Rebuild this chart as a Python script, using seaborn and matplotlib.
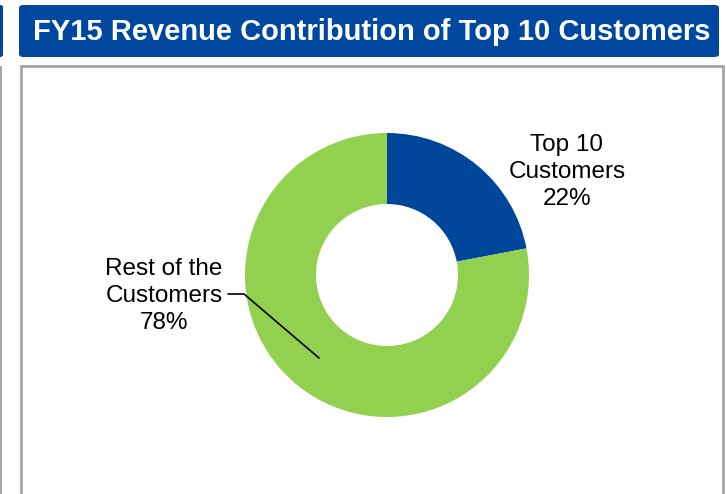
import matplotlib
matplotlib.use("Agg")
import matplotlib.pyplot as plt
import seaborn as sns
from matplotlib.patches import FancyBboxPatch, Rectangle

sns.set_theme(style="white")
plt.rcParams['font.family'] = ['Liberation Sans', 'DejaVu Sans']

title = "FY15 Revenue Contribution of Top 10 Customers"
categories = ["Top 10\nCustomers", "Rest of the\nCustomers"]
shares = [22, 78]
colors = ["#00479B", "#92D050"]

W, H = 726, 494
fig = plt.figure(figsize=(W / 100, H / 100), dpi=100)
fig.patch.set_facecolor("white")

def fx(px):
    return px / W

def fy(py):
    return 1 - py / H

# title bar
fig.patches.append(FancyBboxPatch((fx(19), fy(57)), fx(700), 52 / H,
                                  boxstyle="round,pad=0,rounding_size=0.006",
                                  transform=fig.transFigure, facecolor="#0047A0",
                                  edgecolor="none", zorder=0))
# left strip pieces
fig.patches.append(FancyBboxPatch((fx(-6), fy(57)), fx(9), 52 / H,
                                  boxstyle="round,pad=0,rounding_size=0.004",
                                  transform=fig.transFigure, facecolor="#0047A0",
                                  edgecolor="none", zorder=0))
fig.patches.append(Rectangle((fx(0), 0), fx(1.5), fy(66), transform=fig.transFigure,
                             facecolor="#A6A6A6", edgecolor="none", zorder=0))
# panel border
fig.patches.append(Rectangle((fx(21), fy(500)), fx(702), 434 / H, transform=fig.transFigure,
                             facecolor="none", edgecolor="#A6A6A6", linewidth=2, zorder=0))
fig.text(fx(371.5), fy(32), title, color="white", fontsize=21.0, fontweight="bold",
         ha="center", va="center")

# donut axes
cx, cy, R = 387, 275, 142
half = 160
ax = fig.add_axes([fx(cx - half), fy(cy + half), 2 * half / W, 2 * half / H])
ax.pie(shares, colors=colors, startangle=90, counterclock=False, radius=1,
       wedgeprops=dict(width=0.5, edgecolor="none"))
lim = half / R
ax.set_xlim(-lim, lim)
ax.set_ylim(-lim, lim)
ax.set_aspect("equal")
ax.axis("off")

labels = [f"{c}\n{s}%" for c, s in zip(categories, shares)]
fig.text(fx(567), fy(172), labels[0], ha="center", va="center", fontsize=17.5,
         color="black", linespacing=1.32)
fig.text(fx(164), fy(296), labels[1], ha="center", va="center", fontsize=17.5,
         color="black", linespacing=1.32)

# leader line for the second label
pts = [(228, 294), (244, 294), (319, 358)]
xs = [(p[0] - cx) / R for p in pts]
ys = [-(p[1] - cy) / R for p in pts]
ax.plot(xs, ys, color="black", linewidth=1.2, clip_on=False)

fig.savefig("out.png", dpi=100)
